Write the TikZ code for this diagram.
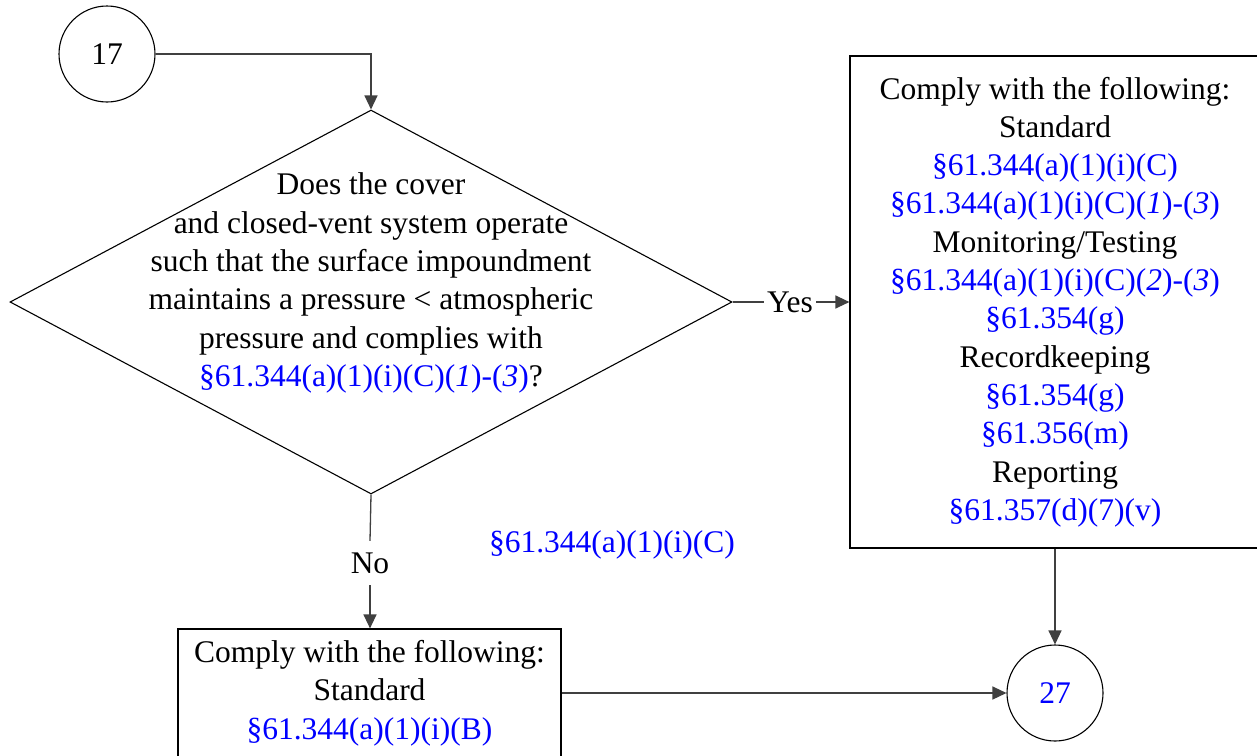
\documentclass[tikz,border=0pt]{standalone}
\usepackage{fontspec}
\setmainfont{Liberation Serif}
\usetikzlibrary{shapes.geometric,arrows.meta}
\definecolor{refblue}{RGB}{0,0,255}
\begin{document}
\begin{tikzpicture}[x=1pt,y=-1pt,
  every node/.style={font=\fontsize{31.5}{38.3}\selectfont},
  conn/.style={line width=1.3pt,draw=black!75},
  arr/.style={conn,-{Triangle[length=14pt,width=13pt]}},
  circ/.style={draw,circle,line width=1.1pt,minimum size=96pt,inner sep=0pt},
  boxed/.style={draw,line width=1.2pt,inner sep=0pt},
  decision/.style={draw,diamond,line width=1.1pt,inner sep=0pt,aspect=1.88},
  ref/.style={text=refblue},
  txt/.style={align=center,inner sep=0pt}]
\useasboundingbox (0,0) rectangle (1257,755);
\clip (0,0) rectangle (1257,755);
\fill[white] (0,0) rectangle (1257,755);
\newcommand{\rb}[1]{\textcolor{refblue}{#1}}

% nodes
\node[circ] (c17) at (107,54) {17};
\node[decision,minimum width=722pt,minimum height=384pt] (dec) at (371,302) {};
\node[txt] (dectext) at (371,283) {Does the cover\\and closed-vent system operate\\such that the surface impoundment\\maintains a pressure \textless{} atmospheric\\pressure and complies with\\\rb{§61.344(a)(1)(i)(C)(\textit{1})-(\textit{3})}?};
\node[boxed,minimum width=410pt,minimum height=492pt] (rbox) at (1055,302) {};
\node[txt] (rtext) at (1055,302) {Comply with the following:\\Standard\\\rb{§61.344(a)(1)(i)(C)}\\\rb{§61.344(a)(1)(i)(C)(\textit{1})-(\textit{3})}\\Monitoring/Testing\\\rb{§61.344(a)(1)(i)(C)(\textit{2})-(\textit{3})}\\\rb{§61.354(g)}\\Recordkeeping\\\rb{§61.354(g)}\\\rb{§61.356(m)}\\Reporting\\\rb{§61.357(d)(7)(v)}};
\node[boxed,minimum width=383pt,minimum height=170pt] (lbox) at (369.5,714) {};
\node[txt] (ltext) at (369.5,693) {Comply with the following:\\Standard\\\rb{§61.344(a)(1)(i)(B)}};
\node[circ,text=refblue] (c27) at (1055,693) {27};
\node[txt,ref] (free) at (612,545) {§61.344(a)(1)(i)(C)};
\node[txt,fill=white,inner xsep=3pt,inner ysep=1pt] (yes) at (790,302) {Yes};
\node[txt,fill=white,minimum height=44pt] (no) at (370,563) {No};

% connectors
\draw[arr] (c17.east) -| (dec.north);
\draw[conn] (dec.east) -- (yes.west);
\draw[arr] (yes.east) -- (rbox.west |- yes.east);
\draw[conn] (dec.south) -- (no.north);
\draw[arr] (no.south) -- (lbox.north -| no.south);
\draw[arr] (rbox.south -| c27.north) -- (c27.north);
\draw[arr] (lbox.east |- c27.west) -- (c27.west);
\end{tikzpicture}
\end{document}
